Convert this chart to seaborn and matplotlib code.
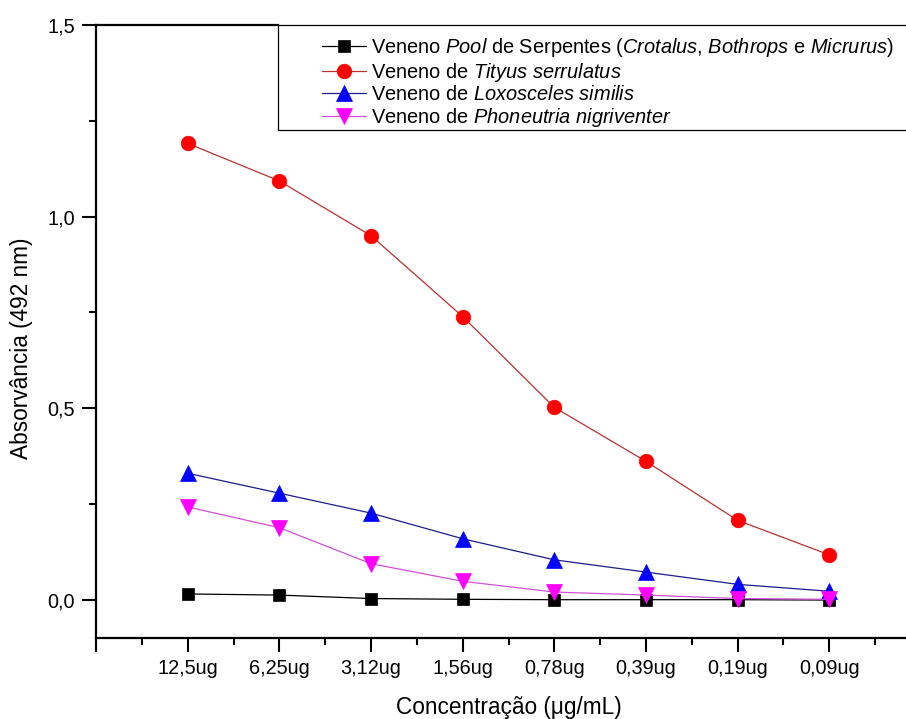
import numpy as np
import pandas as pd
import matplotlib
matplotlib.use("Agg")
import matplotlib.pyplot as plt
import seaborn as sns
from matplotlib.ticker import FixedLocator, MultipleLocator, FuncFormatter
from matplotlib.patches import Rectangle

# ---------------- data ----------------
concentrations = ["12,5ug", "6,25ug", "3,12ug", "1,56ug", "0,78ug", "0,39ug", "0,19ug", "0,09ug"]
pool_serpentes = [0.015, 0.012, 0.003, 0.001, 0.000, 0.000, 0.000, -0.001]
tityus = [1.191, 1.093, 0.950, 0.739, 0.502, 0.361, 0.207, 0.117]
loxosceles = [0.330, 0.278, 0.226, 0.159, 0.104, 0.072, 0.040, 0.022]
phoneutria = [0.242, 0.188, 0.094, 0.048, 0.020, 0.012, 0.003, 0.001]

series_labels = [
    r"Veneno $\it{Pool}$ de Serpentes ($\it{Crotalus}$, $\it{Bothrops}$ e $\it{Micrurus}$)",
    r"Veneno de $\it{Tityus\ serrulatus}$",
    r"Veneno de $\it{Loxosceles\ similis}$",
    r"Veneno de $\it{Phoneutria\ nigriventer}$",
]
y_ticks = [0.0, 0.5, 1.0, 1.5]

# ---------------- style ----------------
sns.set_style("ticks")
plt.rcParams["font.family"] = ["Liberation Sans", "DejaVu Sans"]
plt.rcParams["mathtext.fontset"] = "custom"
plt.rcParams["mathtext.rm"] = "Liberation Sans"
plt.rcParams["mathtext.it"] = "Liberation Sans:italic"
plt.rcParams["text.color"] = "black"
plt.rcParams["axes.labelcolor"] = "black"
plt.rcParams["xtick.color"] = "black"
plt.rcParams["ytick.color"] = "black"

fig = plt.figure(figsize=(9.06, 7.19), dpi=100)
ax = fig.add_axes([96 / 906, 81 / 719, 825 / 906, 613 / 719])

xpos = np.arange(len(concentrations))
styles = [
    (pool_serpentes, "black", "black", "s", 8.5),
    (tityus, "#b8312f", "#ff0000", "o", 10.5),
    (loxosceles, "#1c1c8a", "#0000ff", "^", 11),
    (phoneutria, "#d050d8", "#ff00ff", "v", 11),
]
for (vals, lc, mc, mk, ms), lab in zip(styles, series_labels):
    df = pd.DataFrame({"x": xpos, "y": vals})
    sns.lineplot(data=df, x="x", y="y", ax=ax, color=lc, lw=0.9,
                 marker=mk, markersize=ms, markerfacecolor=mc,
                 markeredgecolor=mc, markeredgewidth=0.5, label=lab)

ax.set_xlim(-1, 8)
ax.set_ylim(-0.1, 1.5)

# ticks
ax.xaxis.set_major_locator(FixedLocator(list(range(-1, 9))))
ax.xaxis.set_minor_locator(FixedLocator(list(np.arange(-0.5, 8, 1.0))))
ax.set_xticklabels([""] + concentrations + [""])
ax.yaxis.set_major_locator(FixedLocator(y_ticks))
ax.yaxis.set_minor_locator(MultipleLocator(0.25))
ax.yaxis.set_major_formatter(FuncFormatter(lambda v, p: f"{v:.1f}".replace(".", ",")))

ax.tick_params(which="major", direction="out", length=10, width=1.5, labelsize=14.3, pad=5)
ax.tick_params(which="minor", direction="out", length=5, width=1.5)
ax.tick_params(top=False, right=False, which="both")

for s in ["left", "bottom", "top"]:
    ax.spines[s].set_linewidth(1.6)
    ax.spines[s].set_color("black")
ax.spines["right"].set_visible(False)
ax.spines["top"].set_visible(True)
ax.spines["top"].set_bounds(-1, 0.985)

ax.set_xlabel("Concentração (μg/mL)", fontsize=16.3)
ax.set_ylabel("Absorvância (492 nm)", fontsize=16.3)
ax.xaxis.set_label_coords(0.5, -0.094)
ax.yaxis.set_label_coords(-0.076, 0.472)

# legend frame + legend
frame = Rectangle((0.2206, 0.8287), 0.85, 0.1713, transform=ax.transAxes,
                  facecolor="white", edgecolor="black", lw=0.9, clip_on=False, zorder=5)
ax.add_patch(frame)
handles, labels = ax.get_legend_handles_labels()
leg = ax.legend(handles, labels, loc="upper left", bbox_to_anchor=(0.274, 0.982),
                frameon=False, borderpad=0, borderaxespad=0, handlelength=2.2,
                handletextpad=0.25, labelspacing=0.08, fontsize=14.4)
leg.set_zorder(6)

fig.savefig("out.png", dpi=100)
